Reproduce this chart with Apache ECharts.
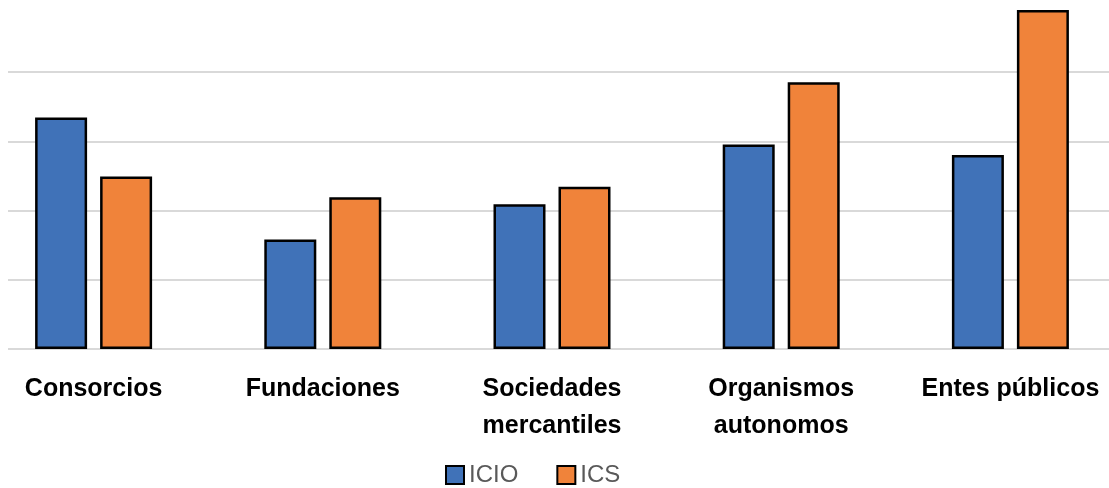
<!DOCTYPE html>
<html>
<head>
<meta charset="utf-8">
<script src="https://cdn.jsdelivr.net/npm/echarts@6/dist/echarts.min.js"></script>
<style>
  html, body { margin: 0; padding: 0; background: #fff; }
  #main { width: 1109px; height: 488px; }
</style>
</head>
<body>
<div id="main"></div>
<script>
const categories = ['Consorcios', 'Fundaciones', 'Sociedades\nmercantiles', 'Organismos\nautonomos', 'Entes públicos'];
const icio = [3.34, 1.58, 2.09, 2.95, 2.80];
const ics = [2.49, 2.19, 2.34, 3.85, 4.89];

const labelFont = "'Liberation Sans', Arial, sans-serif";

const chart = echarts.init(document.getElementById('main'), null, { renderer: 'canvas' });

const option = {
  animation: false,
  legend: {
    data: ['ICIO', 'ICS'],
    icon: 'rect',
    left: 440,
    top: 458,
    itemWidth: 18,
    itemHeight: 18,
    itemGap: 38,
    textStyle: { fontFamily: labelFont, fontSize: 24, color: '#595959' }
  },
  grid: [
    // bars
    { left: -21, right: -16, top: 2.5, bottom: 139, outerBoundsMode: 'none', containLabel: false },
    // gridlines only
    { left: 8, right: 0, top: 72, bottom: 139, outerBoundsMode: 'none', containLabel: false }
  ],
  xAxis: [
    {
      type: 'category',
      gridIndex: 0,
      data: categories,
      axisLine: { show: false },
      axisTick: { show: false },
      axisLabel: {
        interval: 0,
        hideOverlap: false,
        margin: 22,
        fontFamily: labelFont,
        fontSize: 25,
        fontWeight: 'bold',
        color: '#000',
        lineHeight: 37
      }
    },
    {
      type: 'value',
      gridIndex: 1,
      show: false
    }
  ],
  yAxis: [
    {
      type: 'value',
      gridIndex: 0,
      min: 0,
      max: 5,
      show: false,
      splitLine: { show: false }
    },
    {
      type: 'value',
      gridIndex: 1,
      min: 0,
      max: 4,
      interval: 1,
      axisLine: { show: false },
      axisTick: { show: false },
      axisLabel: { show: false },
      splitLine: { lineStyle: { color: '#d9d9d9', width: 2 } }
    }
  ],
  series: [
    {
      name: 'ICIO',
      type: 'bar',
      data: icio,
      barWidth: 52,
      barGap: '25%',
      itemStyle: { color: '#4072B8', borderColor: '#000', borderWidth: 2.5 },
      z: 3
    },
    {
      name: 'ICS',
      type: 'bar',
      data: ics,
      barWidth: 52,
      barGap: '25%',
      itemStyle: { color: '#F0833A', borderColor: '#000', borderWidth: 2.5 },
      z: 3
    }
  ]
};

chart.setOption(option);
</script>
</body>
</html>
